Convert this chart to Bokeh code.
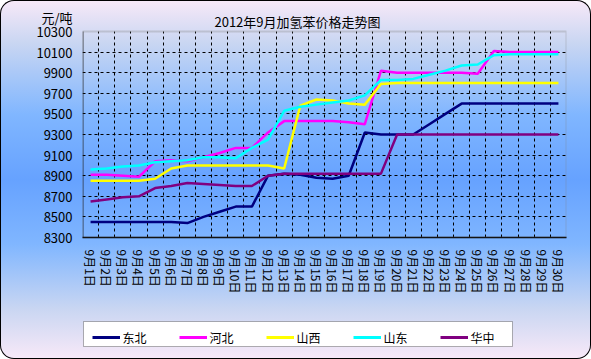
from bokeh.plotting import figure
from bokeh.layouts import column
from bokeh.models import Range1d, FixedTicker, Legend, LegendItem, Label, BoxAnnotation
from bokeh.embed import file_html
from bokeh.resources import INLINE

days = list(range(1, 31))
day_labels = ["9月1日", "9月2日", "9月3日", "9月4日", "9月5日", "9月6日", "9月7日", "9月8日",
              "9月9日", "9月10日", "9月11日", "9月12日", "9月13日", "9月14日", "9月15日",
              "9月16日", "9月17日", "9月18日", "9月19日", "9月20日", "9月21日", "9月22日",
              "9月23日", "9月24日", "9月25日", "9月26日", "9月27日", "9月28日", "9月29日", "9月30日"]

dongbei = [8450, 8450, 8450, 8450, 8450, 8450, 8440, 8500, 8550, 8600, 8600, 8900, 8920, 8910, 8880,
           8870, 8900, 9320, 9300, 9300, 9300, 9400, 9500, 9600, 9600, 9600, 9600, 9600, 9600, 9600]
hebei = [8910, 8910, 8900, 8890, 9040, 9050, 9040, 9080, 9120, 9170, 9170, 9320, 9430, 9430, 9430,
         9430, 9420, 9400, 9920, 9900, 9900, 9900, 9900, 9900, 9890, 10110, 10100, 10100, 10100, 10100]
shanxi = [8850, 8850, 8850, 8850, 8870, 8970, 9000, 9000, 9000, 9000, 9000, 9000, 8970, 9580, 9640,
          9630, 9600, 9590, 9790, 9800, 9800, 9800, 9800, 9800, 9800, 9800, 9800, 9800, 9800, 9800]
shandong = [8960, 8970, 8990, 9000, 9030, 9040, 9050, 9080, 9080, 9070, 9170, 9250, 9530, 9570, 9590,
            9610, 9630, 9680, 9830, 9830, 9840, 9880, 9920, 9970, 9980, 10070, 10080, 10080, 10080, 10080]
huazhong = [8650, 8670, 8690, 8700, 8780, 8800, 8830, 8820, 8810, 8800, 8800, 8900, 8920, 8920, 8920,
            8920, 8920, 8920, 8920, 9300, 9300, 9300, 9300, 9300, 9300, 9300, 9300, 9300, 9300, 9300]

series_names = ["东北", "河北", "山西", "山东", "华中"]
series_values = [dongbei, hebei, shanxi, shandong, huazhong]
series_colors = ["#000080", "#FF00FF", "#FFFF00", "#00FFFF", "#800080"]

y_ticks = [8300, 8500, 8700, 8900, 9100, 9300, 9500, 9700, 9900, 10100, 10300]
title_text = "2012年9月加氢苯价格走势图"
unit_text = "元/吨"

# ---- layout constants (pixels) ----
W, H = 591, 359
MAIN_H = 310                                       # upper figure (chart), lower figure holds legend
PLOT_L, PLOT_R, PLOT_T, PLOT_B = 82, 566, 31, 237   # plot box of the chart
FRAME_T = 12                                       # frame extended upward to hold title text
y_lo, y_hi = y_ticks[0], y_ticks[-1]
px_per_unit = (PLOT_B - PLOT_T) / (y_hi - y_lo)
y_top = y_lo + (PLOT_B - FRAME_T) / px_per_unit
unit_pos = y_hi + (PLOT_T - 16.5) / px_per_unit
x_lo, x_hi = days[0] - 0.5, days[-1] + 0.5

p = figure(width=W, height=MAIN_H, output_backend="svg", toolbar_location=None,
           x_range=Range1d(x_lo, x_hi), y_range=Range1d(y_lo, y_top),
           min_border_left=PLOT_L, min_border_right=W - PLOT_R, min_border_top=FRAME_T,
           min_border_bottom=MAIN_H - PLOT_B)
p.border_fill_alpha = 0
p.background_fill_alpha = 0
p.outline_line_color = None

# plot box: grey top/right, black left
p.add_layout(BoxAnnotation(left=x_lo, right=x_hi, bottom=y_lo, top=y_hi, fill_alpha=0,
                           line_color="#808080", line_width=2))
p.add_layout(BoxAnnotation(left=x_lo, right=x_lo, bottom=y_lo, top=y_hi, fill_alpha=0,
                           line_color="black", line_width=3))

# axes
p.xaxis.ticker = FixedTicker(ticks=days)
p.xaxis.major_label_overrides = {d: lab for d, lab in zip(days, day_labels)}
p.xaxis.major_label_orientation = "vertical"
p.xaxis.major_label_text_font = "Noto Sans CJK SC"
p.xaxis.major_label_text_font_size = "12px"
p.xaxis.major_label_text_color = "black"
p.xaxis.major_label_standoff = 12
p.xaxis.major_tick_in = 0
p.xaxis.major_tick_out = 0
p.xaxis.minor_tick_line_color = None
p.xaxis.axis_line_color = "black"
p.xaxis.axis_line_width = 1.5

p.yaxis.ticker = FixedTicker(ticks=y_ticks + [unit_pos])
p.yaxis.major_label_overrides = {unit_pos: unit_text}
p.yaxis.major_label_text_font = "Noto Sans CJK SC"
p.yaxis.major_label_text_font_size = "13px"
p.yaxis.major_label_text_color = "black"
p.yaxis.major_label_standoff = 10
p.yaxis.major_tick_in = 0
p.yaxis.major_tick_out = 0
p.yaxis.minor_tick_line_color = None
p.yaxis.axis_line_color = None

# grids
p.xgrid.ticker = FixedTicker(ticks=[d + 0.5 for d in days[:-1]])
p.xgrid.grid_line_color = "black"
p.xgrid.grid_line_dash = "3 3"
p.xgrid.grid_line_width = 1
if "cross_bounds" in p.xgrid.properties():
    p.xgrid.cross_bounds = (y_lo, y_hi)
p.ygrid.ticker = FixedTicker(ticks=y_ticks[1:-1])
p.ygrid.grid_line_color = "black"
p.ygrid.grid_line_dash = "3 3"
p.ygrid.grid_line_width = 1

for name, vals, col in zip(series_names, series_values, series_colors):
    p.line(days, vals, line_color=col, line_width=2.5)

p.add_layout(Label(x=(x_lo + x_hi) / 2, y=y_hi, x_offset=-27, y_offset=10, text=title_text,
                   text_font="Noto Sans CJK SC", text_font_size="13px",
                   text_align="center", text_baseline="middle", text_color="black"))

# ---- legend strip (separate figure below the chart; its frame is aligned with the chart's) ----
LEG_H = H - MAIN_H
q = figure(width=W, height=LEG_H, output_backend="svg", toolbar_location=None,
           x_axis_type=None, y_axis_type=None, min_border=0)
q.border_fill_alpha = 0
q.background_fill_alpha = 0
q.outline_line_color = None
q.grid.visible = False
BOX_L, BOX_R, BOX_T, BOX_B = 80, 512, 321, 346     # legend box on the page
GLYPH_L = 96.5                                     # first legend sample on the page
q.add_layout(BoxAnnotation(left=max(BOX_L - PLOT_L, 1), right=BOX_R - PLOT_L,
                           top=H - BOX_T, bottom=H - BOX_B,
                           left_units="screen", right_units="screen",
                           top_units="screen", bottom_units="screen",
                           fill_color="white", fill_alpha=1, line_color="black", line_width=1))
items = []
for name, vals, col in zip(series_names, series_values, series_colors):
    # a one-point line draws nothing; it only supplies the legend sample's style
    r = q.line(x=[days[0]], y=[vals[0]], line_color=col, line_width=3)
    items.append(LegendItem(label=name, renderers=[r]))
PAD = 5
legend = Legend(items=items, orientation="horizontal",
                location=(GLYPH_L - PAD - PLOT_L, H - (BOX_T + BOX_B) / 2 - (14 + 2 * PAD) / 2),
                margin=0, glyph_width=28, glyph_height=14, label_height=14, label_standoff=3,
                spacing=32, padding=PAD, border_line_color=None, background_fill_alpha=0,
                label_text_font="Noto Sans CJK SC", label_text_font_size="12px",
                label_text_color="black")
q.add_layout(legend, "center")

layout = column(p, q, spacing=0, styles={
    "background": "linear-gradient(to bottom, #f8e9f8 0%, #c9d6f2 12%, #80b6ff 32%, #66a2ff 50%, #80b6ff 68%, #c9d6f2 86%, #f8e9f8 100%)",
    "border-radius": "14px", "box-shadow": "inset 0 0 0 1px #000"})

open("out.html", "w").write(file_html(layout, INLINE))
